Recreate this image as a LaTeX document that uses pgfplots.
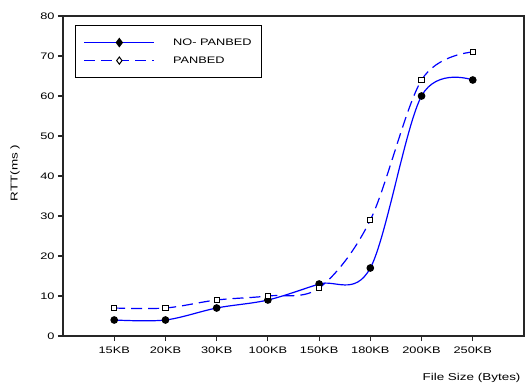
\documentclass[border=0pt]{standalone}
\usepackage{fontspec}
\setmainfont[FakeStretch=1.35]{Liberation Sans}
\usepackage{pgfplots}
\pgfplotsset{compat=1.18}
\begin{document}
\begin{tikzpicture}
\useasboundingbox (0bp,0bp) rectangle (525bp,388bp);
\begin{axis}[
  at={(63bp,52bp)}, anchor=south west,
  scale only axis, width=461bp, height=320bp,
  xmin=-1, xmax=8, ymin=0, ymax=80,
  ytick={0,10,...,80},
  xtick={0,...,7},
  xticklabels={15KB,20KB,30KB,100KB,150KB,180KB,200KB,250KB},
  tick align=outside, tick pos=left,
  major tick length=5bp,
  axis line style={line width=1.2bp, black!85},
  every tick/.style={line width=1.2bp, black!85},
  /pgf/number format/assume math mode=true,
  ticklabel style={font=\fontsize{9.5}{10}\selectfont},
  xticklabel style={yshift=-2bp},
  ylabel={RTT(ms )},
  ylabel style={at={(axis description cs:-0.104,0.51)}, anchor=center, font=\fontsize{10}{11}\selectfont},
  xlabel={File Size (Bytes)},
  xlabel style={at={(axis description cs:1.0,-0.13)}, anchor=east, font=\fontsize{10}{11}\selectfont},
  legend style={at={(axis description cs:0.026,0.972)}, anchor=north west,
    draw=black, line width=1.1bp, inner xsep=8bp, inner ysep=11bp,
    font=\fontsize{9.5}{10}\selectfont, row sep=6bp,
    /tikz/every odd column/.append style={column sep=16bp}},
  legend cell align=left,
  legend image code/.code={
    \draw[mark repeat=2, mark phase=2, #1, line width=1.6bp] plot coordinates {(0bp,0bp) (35bp,0bp) (70bp,0bp)};
  },
]
\addplot[blue, line width=1.2bp, smooth, tension=0.55,
  mark=*, mark size=3.2bp, mark options={solid, black, fill=black},
  legend image post style={blue, sharp plot, mark=diamond*, mark size=3.6bp}]
  coordinates {(0,4) (1,4) (2,7) (3,9) (4,13) (5,17) (6,60) (7,64)};
\addlegendentry{NO- PANBED}
\addplot[blue, line width=1.2bp, smooth, tension=0.55, dash pattern=on 11bp off 6bp,
  mark=square*, mark size=2.6bp, mark options={solid, black, fill=white, line width=1bp},
  legend image post style={blue, sharp plot, mark=diamond*, mark size=3.6bp}]
  coordinates {(0,7) (1,7) (2,9) (3,10) (4,12) (5,29) (6,64) (7,71)};
\addlegendentry{PANBED}
\end{axis}
\end{tikzpicture}
\end{document}
